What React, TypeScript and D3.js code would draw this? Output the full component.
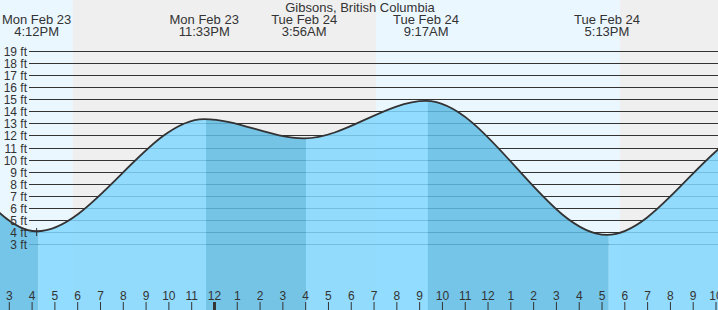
import React from 'react';
import * as d3 from 'd3';

const W = 718;
const H = 310;
const TITLE = 'Gibsons, British Columbia';
const d = (day: number, h: number, m: number) => new Date(2026, 1, day, h, m);

// Tide extremes (first and last two are off-chart, only shape the curve ends)
const tideTimes = [d(23, 3, 0), d(23, 9, 30), d(23, 16, 12), d(23, 23, 33), d(24, 3, 56), d(24, 9, 17), d(24, 17, 13), d(25, 0, 13), d(25, 4, 30)];
const tideHeights = [10.5, 14.4, 4.1, 13.4, 11.8, 14.9, 3.8, 12.9, 11.6];
const tideDayLabels = ['', '', 'Mon Feb 23', 'Mon Feb 23', 'Tue Feb 24', 'Tue Feb 24', 'Tue Feb 24', '', ''];
const tideTimeLabels = ['', '', '4:12PM', '11:33PM', '3:56AM', '9:17AM', '5:13PM', '', ''];

// Night periods (sunset -> sunrise)
const nightStarts = [d(23, 17, 47), d(24, 17, 47)];
const nightEnds = [d(24, 7, 5), d(25, 7, 0)];

const yTicks = [3, 4, 5, 6, 7, 8, 9, 10, 11, 12, 13, 14, 15, 16, 17, 18, 19];
const NOW = d(23, 16, 12);

const FONT = '"Liberation Sans", Arial, Helvetica, sans-serif';
const TEXT = '#333';

export default function App() {
  const x = d3.scaleTime().domain([d(23, 15, 0), d(24, 22, 0)]).range([9.3, 716.0]);
  const y = d3.scaleLinear().domain([0, 19]).range([280.7, 51.5]);
  const hours = d3.timeHour.range(d(23, 15, 0), d(24, 22, 1));
  const pts = tideTimes.map((t, i) => [t, tideHeights[i]] as [Date, number]);
  const area = d3.area<[Date, number]>().x(p => x(p[0])).y0(H).y1(p => y(p[1])).curve(d3.curveMonotoneX);
  const line = d3.line<[Date, number]>().x(p => x(p[0])).y(p => y(p[1])).curve(d3.curveMonotoneX);
  const areaPath = area(pts) || '';
  const linePath = line(pts) || '';
  const BAND_OFF = 1.8;

  const intervals = tideTimes.slice(0, -1).map((t, i) => ({
    x0: x(t) + BAND_OFF,
    x1: x(tideTimes[i + 1]) + BAND_OFF,
    falling: tideHeights[i + 1] < tideHeights[i],
  }));

  return (
    <svg width={W} height={H} style={{ position: 'absolute', left: 0, top: 0, display: 'block' }} fontFamily={FONT}>
      <defs>
        {intervals.map((iv, i) => (
          <clipPath id={`iv${i}`} key={i}>
            <rect x={iv.x0} y={0} width={Math.max(0, iv.x1 - iv.x0)} height={H} />
          </clipPath>
        ))}
      </defs>
      <rect x={0} y={0} width={W} height={H} fill="#ebf7ff" />
      {nightStarts.map((s, i) => {
        const a = Math.max(0, x(s));
        const b = Math.min(W, x(nightEnds[i]));
        return b > a ? <rect key={i} x={a} y={0} width={b - a} height={H} fill="#efefef" /> : null;
      })}
      {yTicks.map(v => {
        const yy = Math.round(y(v) - 0.5) + 0.5;
        return <line key={v} x1={29} x2={W} y1={yy} y2={yy} stroke="#333" strokeWidth={1} />;
      })}
      {intervals.map((iv, i) => (
        <path key={i} d={areaPath} clipPath={`url(#iv${i})`}
          fill={iv.falling ? 'rgb(95,188,228)' : 'rgb(130,215,255)'} fillOpacity={0.85} />
      ))}
      <path d={linePath} fill="none" stroke="#333" strokeWidth={1.8} />
      {yTicks.map(v => {
        const yy = Math.round(y(v) - 0.5) + 0.5;
        return <text key={v} x={27} y={yy + 4.3} textAnchor="end" fontSize={12} fill={TEXT}>{`${v} ft`}</text>;
      })}
      <line x1={x(NOW)} x2={x(NOW)} y1={228} y2={236} stroke="#333" strokeWidth={1} />
      <text x={W / 2 + 1} y={12} textAnchor="middle" fontSize={13} fill={TEXT}>{TITLE}</text>
      {tideTimes.map((t, i) => tideTimeLabels[i] ? (
        <g key={i}>
          <text x={x(t)} y={24} textAnchor="middle" fontSize={13} fill={TEXT}>{tideDayLabels[i]}</text>
          <text x={x(t)} y={36} textAnchor="middle" fontSize={13} fill={TEXT}>{tideTimeLabels[i]}</text>
        </g>
      ) : null)}
      {hours.map((h, i) => {
        const xx = x(h);
        const hr = h.getHours();
        const lbl = hr % 12 === 0 ? 12 : hr % 12;
        const mid = hr === 0;
        return (
          <g key={i}>
            <line x1={xx} x2={xx} y1={302} y2={H} stroke="#333" strokeWidth={mid ? 3 : 1} />
            <text x={xx} y={300} textAnchor="middle" fontSize={12} fill={TEXT}>{lbl}</text>
          </g>
        );
      })}
    </svg>
  );
}
